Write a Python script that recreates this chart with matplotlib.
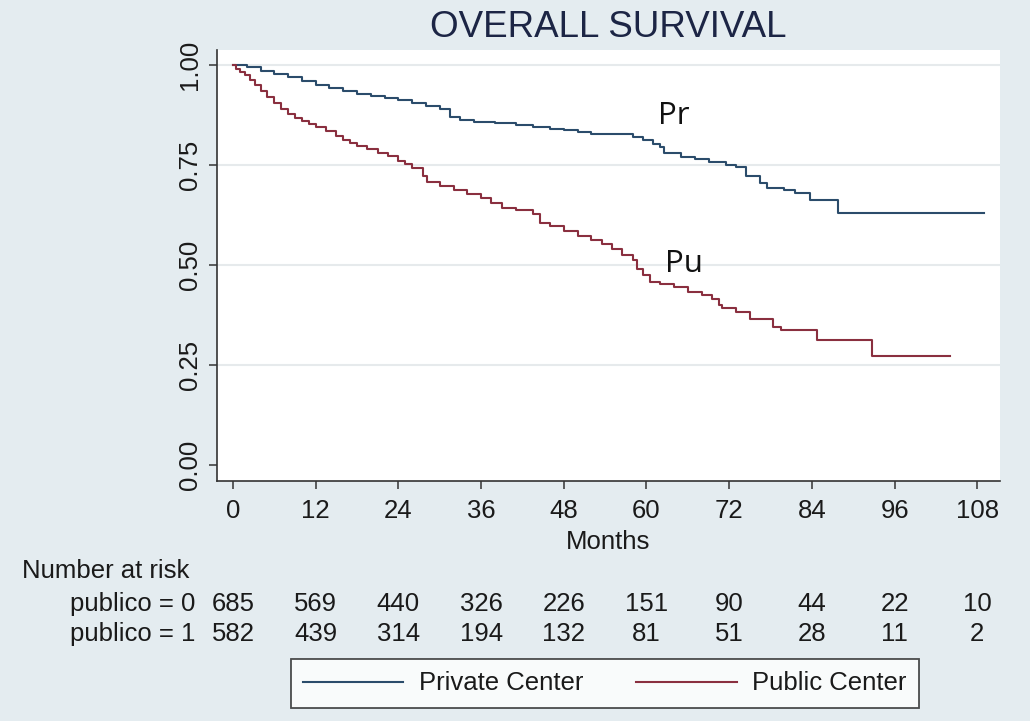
import matplotlib
matplotlib.use('Agg')
import matplotlib.pyplot as plt
import matplotlib.transforms as mtransforms
from matplotlib.lines import Line2D

# Kaplan-Meier step points (months, survival) read per group
private_t = [0, 2, 4, 6, 8, 10, 12, 14, 16, 18, 20, 22, 24, 26, 28, 30, 31.5, 33, 35, 38,
             41, 43.5, 46, 48, 50, 52, 56, 58, 59.5, 61, 62, 62.5, 65, 67, 69, 71.5, 73,
             74.5, 76.5, 77.5, 80, 81.5, 83.7, 87.8, 109]
private_s = [1.00, 0.995, 0.985, 0.978, 0.970, 0.960, 0.950, 0.943, 0.935, 0.928, 0.922,
             0.918, 0.913, 0.905, 0.898, 0.890, 0.870, 0.862, 0.857, 0.855, 0.850, 0.845,
             0.840, 0.837, 0.832, 0.828, 0.828, 0.820, 0.812, 0.803, 0.795, 0.780, 0.770,
             0.765, 0.758, 0.750, 0.745, 0.722, 0.705, 0.693, 0.688, 0.680, 0.663, 0.630,
             0.630]

public_t = [0, 0.5, 1, 1.7, 2.5, 3.2, 4, 5, 6, 7, 8, 9, 10, 11, 12, 13.5, 15, 16, 17, 18,
            19.5, 21, 22.5, 24, 25, 26, 27.5, 28.2, 30, 32, 34, 36, 37.5, 39, 41, 43.5,
            44.6, 46, 48, 50, 52, 53.5, 55, 56.5, 58, 58.6, 59.5, 60.5, 62, 64, 66, 68,
            69.5, 70.5, 71, 73, 75, 78.4, 79.5, 84.8, 92.7, 104]
public_s = [1.00, 0.990, 0.983, 0.975, 0.962, 0.950, 0.935, 0.920, 0.905, 0.890, 0.877,
            0.868, 0.860, 0.852, 0.845, 0.835, 0.822, 0.812, 0.805, 0.798, 0.790, 0.780,
            0.772, 0.760, 0.752, 0.742, 0.722, 0.708, 0.698, 0.688, 0.678, 0.668, 0.655,
            0.643, 0.638, 0.628, 0.605, 0.598, 0.585, 0.573, 0.562, 0.552, 0.540, 0.525,
            0.512, 0.490, 0.475, 0.458, 0.452, 0.445, 0.433, 0.426, 0.415, 0.400, 0.392,
            0.383, 0.365, 0.345, 0.338, 0.3125, 0.2725, 0.2725]

# number at risk table
risk_months = [0, 12, 24, 36, 48, 60, 72, 84, 96, 108]
risk_private = [685, 569, 440, 326, 226, 151, 90, 44, 22, 10]
risk_public = [582, 439, 314, 194, 132, 81, 51, 28, 11, 2]

y_ticks = [0.00, 0.25, 0.50, 0.75, 1.00]

bg = '#e4ecf0'
navy = '#2b4c6b'
maroon = '#8a2f3f'
fs = 18.5
plt.rcParams['font.family'] = ['Liberation Sans', 'DejaVu Sans']

fig = plt.figure(figsize=(10.30, 7.21), dpi=100, facecolor=bg)
ax = fig.add_axes([0.2107, 0.3329, 0.7602, 0.5978])
ax.set_facecolor('white')

ax.step(private_t, private_s, where='post', color=navy, lw=1.5)
ax.step(public_t, public_s, where='post', color=maroon, lw=1.5)

ax.set_xlim(-2.32, 111.3)
ax.set_ylim(-0.04, 1.0375)
ax.set_xticks(risk_months)
ax.set_yticks(y_ticks)
ax.set_yticklabels(['%.2f' % v for v in y_ticks], rotation=90, va='center')
ax.tick_params(labelsize=fs, length=6, width=1.1, color='#333333', colors='#1a1a1a')
ax.tick_params(axis='x', pad=7)
ax.tick_params(axis='y', pad=5)
for side in ['top', 'right']:
    ax.spines[side].set_visible(False)
for side in ['left', 'bottom']:
    ax.spines[side].set_color('#333333')
    ax.spines[side].set_linewidth(1.2)
for v in y_ticks[1:]:
    ax.axhline(v, color='#e6eaec', lw=1.5, zorder=0)

ax.set_xlabel('Months', fontsize=fs, labelpad=5, color='#1a1a1a')
ax.text(61.7, 0.8525, 'Pr', fontsize=22.5, family='Open Sans', color='#111111')
ax.text(62.7, 0.4825, 'Pu', fontsize=22.5, family='Open Sans', color='#111111')

fig.text(0.591, 0.962, 'OVERALL SURVIVAL', fontsize=26.5, color='#1c2545',
         ha='center', va='center')

# risk table under the axis, aligned with month ticks
trans = mtransforms.blended_transform_factory(ax.transData, fig.transFigure)
fig.text(22 / 1030, 1 - 571 / 721, 'Number at risk', fontsize=fs, va='center', color='#1a1a1a')
fig.text(195 / 1030, 1 - 604 / 721, 'publico = 0', fontsize=fs, va='center', ha='right',
         color='#1a1a1a')
fig.text(195 / 1030, 1 - 634 / 721, 'publico = 1', fontsize=fs, va='center', ha='right',
         color='#1a1a1a')
for m, a, b in zip(risk_months, risk_private, risk_public):
    ax.text(m, 1 - 604 / 721, str(a), transform=trans, fontsize=fs, ha='center',
            va='center', color='#1a1a1a')
    ax.text(m, 1 - 634 / 721, str(b), transform=trans, fontsize=fs, ha='center',
            va='center', color='#1a1a1a')

handles = [Line2D([], [], color=navy, lw=1.5), Line2D([], [], color=maroon, lw=1.5)]
leg = fig.legend(handles, ['Private Center', 'Public Center'], ncol=2, loc='center',
                 bbox_to_anchor=(605 / 1030, 1 - 683.5 / 721), fontsize=fs,
                 frameon=True, fancybox=False, handlelength=3.9, handletextpad=0.62,
                 columnspacing=2.05, borderpad=0.48)
leg.get_frame().set_edgecolor('#222222')
leg.get_frame().set_linewidth(1.3)
for t in leg.get_texts():
    t.set_color('#1a1a1a')

fig.savefig('out.png', dpi=100, facecolor=bg)
